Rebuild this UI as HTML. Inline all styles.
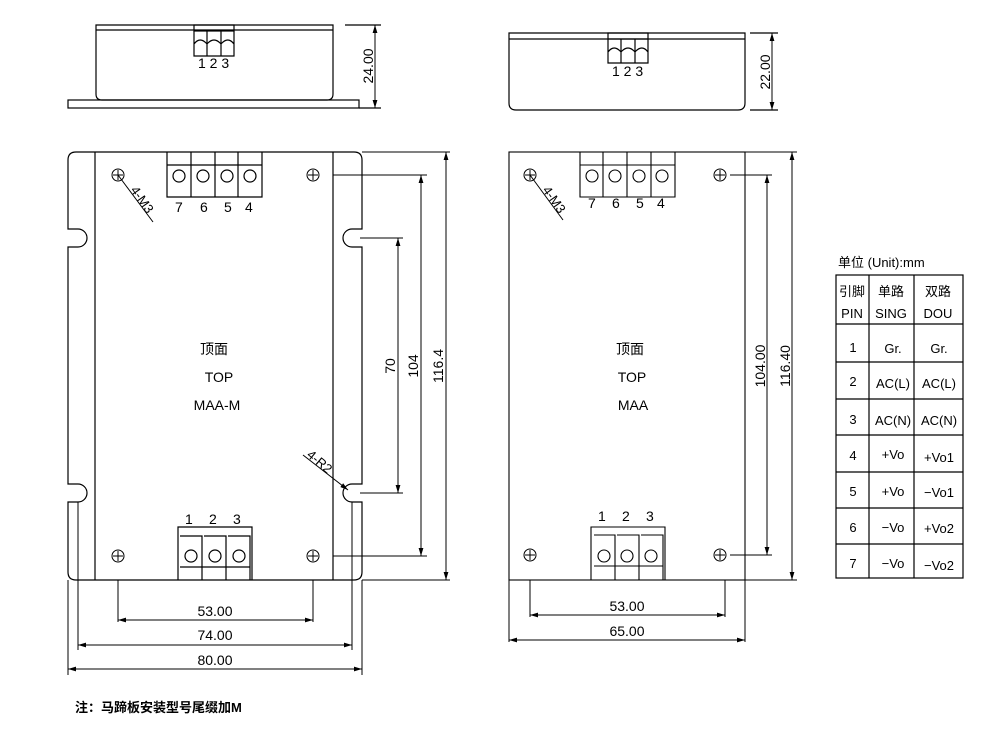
<!DOCTYPE html>
<html><head><meta charset="utf-8"><style>
html,body{margin:0;padding:0;background:#fff}
svg{display:block}
text{font-family:"Liberation Sans","Noto Sans CJK SC",sans-serif;fill:#000}
</style></head><body>
<svg width="998" height="745" viewBox="0 0 998 745" xmlns="http://www.w3.org/2000/svg">
<defs>
<marker id="a" viewBox="0 0 10 6" refX="10" refY="3" markerWidth="8" markerHeight="5" orient="auto-start-reverse" markerUnits="userSpaceOnUse"><path d="M0,0L10,3L0,6z" fill="#000"/></marker>
<g id="hole"><circle r="6" fill="none" stroke="#000" stroke-width="1"/><path d="M-5,0H5M0,-5V5" stroke="#000" stroke-width="1"/></g>
</defs>
<g fill="none" stroke="#000" stroke-width="1.2">
<path d="M96,25H333V94Q333,100 327,100H102Q96,100 96,94Z"/>
<path d="M96,30H333"/>
<rect x="68" y="100" width="291" height="8"/>
<rect x="194" y="25" width="40" height="6"/>
<path d="M194,31V56H234V31M207,31V56M221,31V56M194,44Q200,36 207,44Q214,36 221,44Q228,36 234,44"/>
<path d="M345,25H381M359,108H381"/>
<path d="M509,33H745V103Q745,110 738,110H516Q509,110 509,103Z"/>
<path d="M509,39H745"/>
<rect x="608" y="33" width="40" height="6"/>
<path d="M608,39V63H648V39M621,39V63M635,39V63M608,52Q614,44 621,52Q628,44 635,52Q642,44 648,52"/>
<path d="M750,33H778M750,110H778"/>

<path d="M76,152H354Q362,152 362,160V229H352A9,9 0 0 0 352,247H362V484H352A9,9 0 0 0 352,502H362V572Q362,580 354,580H76Q68,580 68,572V502H78A9,9 0 0 0 78,484H68V247H78A9,9 0 0 0 78,229H68V160Q68,152 76,152Z"/>
<path d="M95,152V580M333,152V580"/>
<path d="M167,152V197H262V152M191,152V197M215,152V197M238,152V197M167,165H262"/>
<circle cx="179" cy="176" r="6"/><circle cx="203" cy="176" r="6"/><circle cx="227" cy="176" r="6"/><circle cx="250" cy="176" r="6"/>
<path d="M178,580V527H252V580M180,536H202V580M204,536H226V580M228,536H250V580M180,567H250"/>
<circle cx="191" cy="556" r="6"/><circle cx="215" cy="556" r="6"/><circle cx="239" cy="556" r="6"/>
</g>
<g><use href="#hole" x="118" y="175"/><use href="#hole" x="313" y="175"/><use href="#hole" x="118" y="556"/><use href="#hole" x="313" y="556"/>
<use href="#hole" x="530" y="175"/><use href="#hole" x="720" y="175"/><use href="#hole" x="530" y="555"/><use href="#hole" x="720" y="555"/></g>

<g fill="none" stroke="#000" stroke-width="1.1">
<rect x="509" y="152" width="236" height="428"/>
<path d="M580,152V197H675V152M603,152V197M627,152V197M651,152V197M580,165H675"/>
<circle cx="592" cy="176" r="6"/><circle cx="615" cy="176" r="6"/><circle cx="639" cy="176" r="6"/><circle cx="662" cy="176" r="6"/>
<path d="M591,580V527H665V580M594,535H615V580M617,535H639V580M641,535H663V580M594,566H663"/>
<circle cx="604" cy="556" r="6"/><circle cx="627" cy="556" r="6"/><circle cx="651" cy="556" r="6"/>
</g>

<g fill="none" stroke="#000" stroke-width="1">
<line x1="375" y1="25" x2="375" y2="108" marker-start="url(#a)" marker-end="url(#a)"/>
<line x1="772" y1="33" x2="772" y2="110" marker-start="url(#a)" marker-end="url(#a)"/>
<path d="M362,152H450M362,580H450M333,175H427M333,556H427M360,238H403M360,493H403"/>
<line x1="446" y1="152" x2="446" y2="580" marker-start="url(#a)" marker-end="url(#a)"/>
<line x1="421" y1="175" x2="421" y2="556" marker-start="url(#a)" marker-end="url(#a)"/>
<line x1="398" y1="238" x2="398" y2="493" marker-start="url(#a)" marker-end="url(#a)"/>
<path d="M118,580V622M313,580V622M78,502V650M352,502V650M68,580V675M362,580V675"/>
<line x1="118" y1="620" x2="313" y2="620" marker-start="url(#a)" marker-end="url(#a)"/>
<line x1="78" y1="645" x2="352" y2="645" marker-start="url(#a)" marker-end="url(#a)"/>
<line x1="68" y1="669" x2="362" y2="669" marker-start="url(#a)" marker-end="url(#a)"/>
<line x1="118" y1="175" x2="153" y2="222"/>
<line x1="303" y1="455" x2="348" y2="490" marker-end="url(#a)"/>
<path d="M745,152H797M745,580H797M730,175H772M730,555H772"/>
<line x1="792" y1="152" x2="792" y2="580" marker-start="url(#a)" marker-end="url(#a)"/>
<line x1="767" y1="175" x2="767" y2="555" marker-start="url(#a)" marker-end="url(#a)"/>
<path d="M530,580V617M725,580V617M509,580V642M745,580V642"/>
<line x1="530" y1="615" x2="725" y2="615" marker-start="url(#a)" marker-end="url(#a)"/>
<line x1="509" y1="640" x2="745" y2="640" marker-start="url(#a)" marker-end="url(#a)"/>
<line x1="530" y1="175" x2="563" y2="220"/>
</g>

<g font-size="14">
<text x="198" y="68">1 2 3</text>
<text x="612" y="76">1 2 3</text>
<text transform="translate(373,66) rotate(-90)" text-anchor="middle">24.00</text>
<text transform="translate(770,72) rotate(-90)" text-anchor="middle">22.00</text>
<text x="175" y="212">7</text><text x="200" y="212">6</text><text x="224" y="212">5</text><text x="245" y="212">4</text>
<text x="588" y="208">7</text><text x="612" y="208">6</text><text x="636" y="208">5</text><text x="657" y="208">4</text>
<text x="185" y="524">1</text><text x="209" y="524">2</text><text x="233" y="524">3</text>
<text x="598" y="521">1</text><text x="622" y="521">2</text><text x="646" y="521">3</text>
<text transform="translate(130,190) rotate(55)" font-size="13">4-M3</text>
<text transform="translate(542,190) rotate(55)" font-size="13">4-M3</text>
<text transform="translate(306,456) rotate(40)" font-size="13">4-R2</text>
<text x="214" y="354" text-anchor="middle">顶面</text>
<text x="219" y="382" text-anchor="middle">TOP</text>
<text x="217" y="410" text-anchor="middle">MAA-M</text>
<text x="630" y="354" text-anchor="middle">顶面</text>
<text x="632" y="382" text-anchor="middle">TOP</text>
<text x="633" y="410" text-anchor="middle">MAA</text>
<text transform="translate(395,366) rotate(-90)" text-anchor="middle">70</text>
<text transform="translate(418,366) rotate(-90)" text-anchor="middle">104</text>
<text transform="translate(443,366) rotate(-90)" text-anchor="middle">116.4</text>
<text transform="translate(765,366) rotate(-90)" text-anchor="middle">104.00</text>
<text transform="translate(790,366) rotate(-90)" text-anchor="middle">116.40</text>
<text x="215" y="616" text-anchor="middle">53.00</text>
<text x="215" y="640" text-anchor="middle">74.00</text>
<text x="215" y="665" text-anchor="middle">80.00</text>
<text x="627" y="611" text-anchor="middle">53.00</text>
<text x="627" y="636" text-anchor="middle">65.00</text>
<text x="75" y="712" font-weight="bold" font-size="13">注：马蹄板安装型号尾缀加M</text>
</g>

<g fill="none" stroke="#000" stroke-width="1.2">
<rect x="836" y="275" width="127" height="303"/>
<path d="M869,275V578M914,275V578M836,324H963M836,362H963M836,399H963M836,435H963M836,472H963M836,508H963M836,544H963"/>
</g>
<g font-size="13" text-anchor="middle">
<text x="838" y="267" text-anchor="start">单位 (Unit):mm</text>
<text x="852" y="296">引脚</text><text x="891" y="296">单路</text><text x="938" y="296">双路</text>
<text x="852" y="318">PIN</text><text x="891" y="318">SING</text><text x="938" y="318">DOU</text>
<text x="853" y="352">1</text><text x="893" y="353">Gr.</text><text x="939" y="353">Gr.</text>
<text x="853" y="386">2</text><text x="893" y="388">AC(L)</text><text x="939" y="388">AC(L)</text>
<text x="853" y="424">3</text><text x="893" y="425">AC(N)</text><text x="939" y="425">AC(N)</text>
<text x="853" y="460">4</text><text x="893" y="459">+Vo</text><text x="939" y="462">+Vo1</text>
<text x="853" y="496">5</text><text x="893" y="496">+Vo</text><text x="939" y="497">−Vo1</text>
<text x="853" y="532">6</text><text x="893" y="532">−Vo</text><text x="939" y="533">+Vo2</text>
<text x="853" y="568">7</text><text x="893" y="568">−Vo</text><text x="939" y="570">−Vo2</text>
</g>
</svg>
</body></html>
